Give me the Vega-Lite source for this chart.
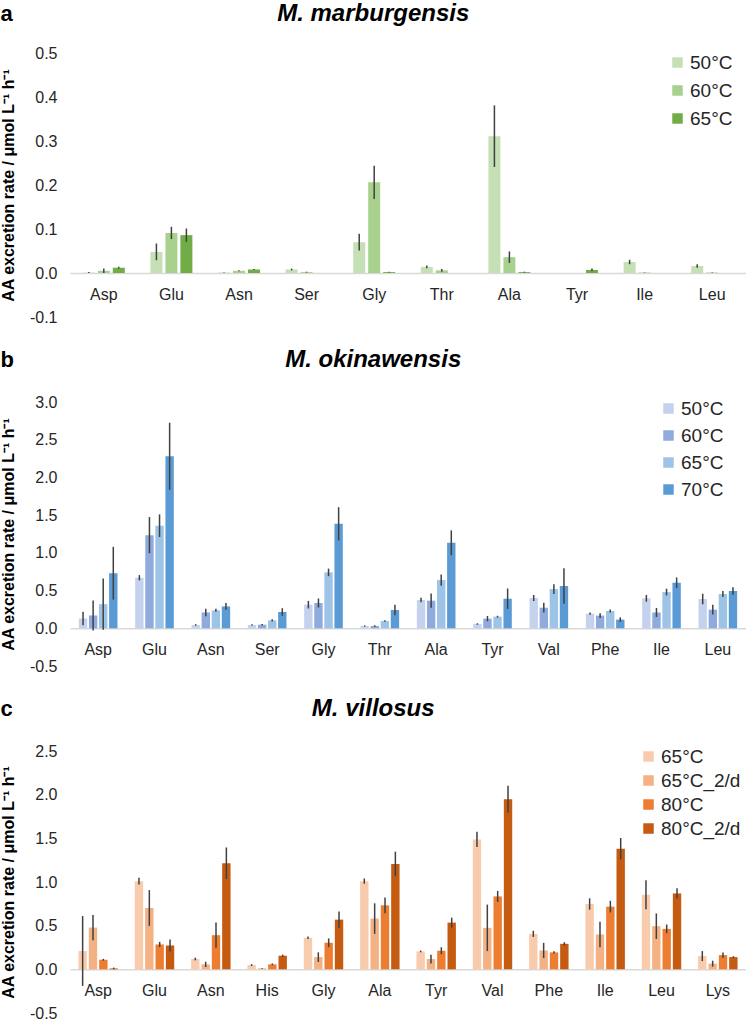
{
  "$schema": "https://vega.github.io/schema/vega-lite/v6.json",
  "padding": {"top": 2, "left": 0, "right": 0, "bottom": 0},
  "background": "white",
  "spacing": 23,
  "config": {
    "font": "Liberation Sans",
    "view": {"stroke": null},
    "axis": {"labelFont": "Liberation Sans", "labelColor": "#262626", "labelFontSize": 16, "grid": false, "ticks": false, "labelOverlap": false},
    "axisX": {"title": null, "labelAngle": 0, "domainColor": "#d9d9d9", "domainWidth": 1.5, "labelPadding": 13},
    "axisY": {"domain": false, "labelPadding": 13, "titleFontSize": 16, "titleFontWeight": "bold", "titleColor": "#000000", "titlePadding": 13, "labelOverlap": false},
    "legend": {"orient": "none", "labelFontSize": 19, "symbolType": "square", "symbolSize": 110, "symbolStrokeWidth": 0, "symbolOpacity": 1, "padding": 0, "labelOffset": 3, "labelColor": "#262626", "labelLimit": 200},
    "title": {"color": "#000000"}
  },
  "datasets": {
    "a": [
      {"aa": "Asp", "t": "50°C", "v": 0.001, "lo": 0.0, "hi": 0.002},
      {"aa": "Asp", "t": "60°C", "v": 0.005, "lo": 0.0, "hi": 0.01},
      {"aa": "Asp", "t": "65°C", "v": 0.012, "lo": 0.010, "hi": 0.014},
      {"aa": "Glu", "t": "50°C", "v": 0.048, "lo": 0.029, "hi": 0.067},
      {"aa": "Glu", "t": "60°C", "v": 0.091, "lo": 0.077, "hi": 0.105},
      {"aa": "Glu", "t": "65°C", "v": 0.086, "lo": 0.071, "hi": 0.101},
      {"aa": "Asn", "t": "50°C", "v": 0.001, "lo": 0.0005, "hi": 0.0015},
      {"aa": "Asn", "t": "60°C", "v": 0.005, "lo": 0.004, "hi": 0.006},
      {"aa": "Asn", "t": "65°C", "v": 0.008, "lo": 0.007, "hi": 0.009},
      {"aa": "Ser", "t": "50°C", "v": 0.008, "lo": 0.006, "hi": 0.010},
      {"aa": "Ser", "t": "60°C", "v": 0.002, "lo": 0.001, "hi": 0.003},
      {"aa": "Gly", "t": "50°C", "v": 0.070, "lo": 0.051, "hi": 0.089},
      {"aa": "Gly", "t": "60°C", "v": 0.206, "lo": 0.168, "hi": 0.244},
      {"aa": "Gly", "t": "65°C", "v": 0.002, "lo": 0.001, "hi": 0.003},
      {"aa": "Thr", "t": "50°C", "v": 0.014, "lo": 0.011, "hi": 0.017},
      {"aa": "Thr", "t": "60°C", "v": 0.006, "lo": 0.003, "hi": 0.009},
      {"aa": "Ala", "t": "50°C", "v": 0.311, "lo": 0.241, "hi": 0.381},
      {"aa": "Ala", "t": "60°C", "v": 0.036, "lo": 0.023, "hi": 0.049},
      {"aa": "Ala", "t": "65°C", "v": 0.002, "lo": 0.001, "hi": 0.003},
      {"aa": "Tyr", "t": "65°C", "v": 0.007, "lo": 0.004, "hi": 0.010},
      {"aa": "Ile", "t": "50°C", "v": 0.025, "lo": 0.020, "hi": 0.030},
      {"aa": "Ile", "t": "60°C", "v": 0.001, "lo": 0.0005, "hi": 0.0015},
      {"aa": "Leu", "t": "50°C", "v": 0.016, "lo": 0.012, "hi": 0.020},
      {"aa": "Leu", "t": "60°C", "v": 0.001, "lo": 0.0005, "hi": 0.0015}
    ],
    "b": [
      {"aa": "Asp", "t": "50°C", "v": 0.13, "lo": 0.04, "hi": 0.22},
      {"aa": "Asp", "t": "60°C", "v": 0.17, "lo": -0.03, "hi": 0.37},
      {"aa": "Asp", "t": "65°C", "v": 0.32, "lo": -0.02, "hi": 0.66},
      {"aa": "Asp", "t": "70°C", "v": 0.73, "lo": 0.38, "hi": 1.08},
      {"aa": "Glu", "t": "50°C", "v": 0.67, "lo": 0.635, "hi": 0.705},
      {"aa": "Glu", "t": "60°C", "v": 1.235, "lo": 0.995, "hi": 1.475},
      {"aa": "Glu", "t": "65°C", "v": 1.36, "lo": 1.21, "hi": 1.51},
      {"aa": "Glu", "t": "70°C", "v": 2.28, "lo": 1.835, "hi": 2.725},
      {"aa": "Asn", "t": "50°C", "v": 0.044, "lo": 0.034, "hi": 0.054},
      {"aa": "Asn", "t": "60°C", "v": 0.21, "lo": 0.16, "hi": 0.26},
      {"aa": "Asn", "t": "65°C", "v": 0.238, "lo": 0.218, "hi": 0.258},
      {"aa": "Asn", "t": "70°C", "v": 0.29, "lo": 0.245, "hi": 0.335},
      {"aa": "Ser", "t": "50°C", "v": 0.044, "lo": 0.036, "hi": 0.052},
      {"aa": "Ser", "t": "60°C", "v": 0.048, "lo": 0.038, "hi": 0.058},
      {"aa": "Ser", "t": "65°C", "v": 0.106, "lo": 0.091, "hi": 0.121},
      {"aa": "Ser", "t": "70°C", "v": 0.216, "lo": 0.166, "hi": 0.266},
      {"aa": "Gly", "t": "50°C", "v": 0.313, "lo": 0.263, "hi": 0.363},
      {"aa": "Gly", "t": "60°C", "v": 0.335, "lo": 0.275, "hi": 0.395},
      {"aa": "Gly", "t": "65°C", "v": 0.741, "lo": 0.691, "hi": 0.791},
      {"aa": "Gly", "t": "70°C", "v": 1.385, "lo": 1.165, "hi": 1.605},
      {"aa": "Thr", "t": "50°C", "v": 0.031, "lo": 0.023, "hi": 0.039},
      {"aa": "Thr", "t": "60°C", "v": 0.031, "lo": 0.021, "hi": 0.041},
      {"aa": "Thr", "t": "65°C", "v": 0.097, "lo": 0.087, "hi": 0.107},
      {"aa": "Thr", "t": "70°C", "v": 0.243, "lo": 0.173, "hi": 0.313},
      {"aa": "Ala", "t": "50°C", "v": 0.375, "lo": 0.345, "hi": 0.405},
      {"aa": "Ala", "t": "60°C", "v": 0.366, "lo": 0.271, "hi": 0.461},
      {"aa": "Ala", "t": "65°C", "v": 0.639, "lo": 0.564, "hi": 0.714},
      {"aa": "Ala", "t": "70°C", "v": 1.133, "lo": 0.968, "hi": 1.298},
      {"aa": "Tyr", "t": "50°C", "v": 0.057, "lo": 0.047, "hi": 0.067},
      {"aa": "Tyr", "t": "60°C", "v": 0.128, "lo": 0.093, "hi": 0.163},
      {"aa": "Tyr", "t": "65°C", "v": 0.154, "lo": 0.142, "hi": 0.166},
      {"aa": "Tyr", "t": "70°C", "v": 0.392, "lo": 0.257, "hi": 0.527},
      {"aa": "Val", "t": "50°C", "v": 0.401, "lo": 0.361, "hi": 0.441},
      {"aa": "Val", "t": "60°C", "v": 0.273, "lo": 0.208, "hi": 0.338},
      {"aa": "Val", "t": "65°C", "v": 0.52, "lo": 0.455, "hi": 0.585},
      {"aa": "Val", "t": "70°C", "v": 0.56, "lo": 0.325, "hi": 0.795},
      {"aa": "Phe", "t": "50°C", "v": 0.194, "lo": 0.179, "hi": 0.209},
      {"aa": "Phe", "t": "60°C", "v": 0.168, "lo": 0.138, "hi": 0.198},
      {"aa": "Phe", "t": "65°C", "v": 0.229, "lo": 0.209, "hi": 0.249},
      {"aa": "Phe", "t": "70°C", "v": 0.115, "lo": 0.085, "hi": 0.145},
      {"aa": "Ile", "t": "50°C", "v": 0.397, "lo": 0.352, "hi": 0.442},
      {"aa": "Ile", "t": "60°C", "v": 0.21, "lo": 0.15, "hi": 0.27},
      {"aa": "Ile", "t": "65°C", "v": 0.48, "lo": 0.435, "hi": 0.525},
      {"aa": "Ile", "t": "70°C", "v": 0.604, "lo": 0.534, "hi": 0.674},
      {"aa": "Leu", "t": "50°C", "v": 0.388, "lo": 0.318, "hi": 0.458},
      {"aa": "Leu", "t": "60°C", "v": 0.247, "lo": 0.182, "hi": 0.312},
      {"aa": "Leu", "t": "65°C", "v": 0.454, "lo": 0.414, "hi": 0.494},
      {"aa": "Leu", "t": "70°C", "v": 0.494, "lo": 0.444, "hi": 0.544}
    ],
    "c": [
      {"aa": "Asp", "t": "65°C", "v": 0.209, "lo": -0.19, "hi": 0.61},
      {"aa": "Asp", "t": "65°C_2/d", "v": 0.478, "lo": 0.333, "hi": 0.623},
      {"aa": "Asp", "t": "80°C", "v": 0.11, "lo": 0.1, "hi": 0.12},
      {"aa": "Asp", "t": "80°C_2/d", "v": 0.01, "lo": 0.0, "hi": 0.02},
      {"aa": "Glu", "t": "65°C", "v": 1.01, "lo": 0.97, "hi": 1.05},
      {"aa": "Glu", "t": "65°C_2/d", "v": 0.702, "lo": 0.497, "hi": 0.907},
      {"aa": "Glu", "t": "80°C", "v": 0.285, "lo": 0.255, "hi": 0.315},
      {"aa": "Glu", "t": "80°C_2/d", "v": 0.273, "lo": 0.203, "hi": 0.343},
      {"aa": "Asn", "t": "65°C", "v": 0.118, "lo": 0.103, "hi": 0.133},
      {"aa": "Asn", "t": "65°C_2/d", "v": 0.057, "lo": 0.027, "hi": 0.087},
      {"aa": "Asn", "t": "80°C", "v": 0.391, "lo": 0.246, "hi": 0.536},
      {"aa": "Asn", "t": "80°C_2/d", "v": 1.215, "lo": 1.035, "hi": 1.395},
      {"aa": "His", "t": "65°C", "v": 0.049, "lo": 0.039, "hi": 0.059},
      {"aa": "His", "t": "65°C_2/d", "v": 0.011, "lo": 0.006, "hi": 0.016},
      {"aa": "His", "t": "80°C", "v": 0.057, "lo": 0.047, "hi": 0.067},
      {"aa": "His", "t": "80°C_2/d", "v": 0.156, "lo": 0.144, "hi": 0.168},
      {"aa": "Gly", "t": "65°C", "v": 0.361, "lo": 0.346, "hi": 0.376},
      {"aa": "Gly", "t": "65°C_2/d", "v": 0.14, "lo": 0.085, "hi": 0.195},
      {"aa": "Gly", "t": "80°C", "v": 0.304, "lo": 0.254, "hi": 0.354},
      {"aa": "Gly", "t": "80°C_2/d", "v": 0.569, "lo": 0.476, "hi": 0.662},
      {"aa": "Ala", "t": "65°C", "v": 1.01, "lo": 0.98, "hi": 1.04},
      {"aa": "Ala", "t": "65°C_2/d", "v": 0.581, "lo": 0.406, "hi": 0.756},
      {"aa": "Ala", "t": "80°C", "v": 0.733, "lo": 0.643, "hi": 0.823},
      {"aa": "Ala", "t": "80°C_2/d", "v": 1.207, "lo": 1.067, "hi": 1.347},
      {"aa": "Tyr", "t": "65°C", "v": 0.205, "lo": 0.195, "hi": 0.215},
      {"aa": "Tyr", "t": "65°C_2/d", "v": 0.118, "lo": 0.068, "hi": 0.168},
      {"aa": "Tyr", "t": "80°C", "v": 0.213, "lo": 0.173, "hi": 0.253},
      {"aa": "Tyr", "t": "80°C_2/d", "v": 0.535, "lo": 0.478, "hi": 0.592},
      {"aa": "Val", "t": "65°C", "v": 1.488, "lo": 1.401, "hi": 1.575},
      {"aa": "Val", "t": "65°C_2/d", "v": 0.475, "lo": 0.209, "hi": 0.741},
      {"aa": "Val", "t": "80°C", "v": 0.835, "lo": 0.772, "hi": 0.898},
      {"aa": "Val", "t": "80°C_2/d", "v": 1.948, "lo": 1.793, "hi": 2.103},
      {"aa": "Phe", "t": "65°C", "v": 0.406, "lo": 0.371, "hi": 0.441},
      {"aa": "Phe", "t": "65°C_2/d", "v": 0.216, "lo": 0.129, "hi": 0.303},
      {"aa": "Phe", "t": "80°C", "v": 0.194, "lo": 0.182, "hi": 0.206},
      {"aa": "Phe", "t": "80°C_2/d", "v": 0.292, "lo": 0.274, "hi": 0.31},
      {"aa": "Ile", "t": "65°C", "v": 0.748, "lo": 0.683, "hi": 0.813},
      {"aa": "Ile", "t": "65°C_2/d", "v": 0.399, "lo": 0.253, "hi": 0.545},
      {"aa": "Ile", "t": "80°C", "v": 0.718, "lo": 0.652, "hi": 0.784},
      {"aa": "Ile", "t": "80°C_2/d", "v": 1.382, "lo": 1.26, "hi": 1.504},
      {"aa": "Leu", "t": "65°C", "v": 0.854, "lo": 0.689, "hi": 1.019},
      {"aa": "Leu", "t": "65°C_2/d", "v": 0.494, "lo": 0.348, "hi": 0.64},
      {"aa": "Leu", "t": "80°C", "v": 0.463, "lo": 0.413, "hi": 0.513},
      {"aa": "Leu", "t": "80°C_2/d", "v": 0.869, "lo": 0.81, "hi": 0.928},
      {"aa": "Lys", "t": "65°C", "v": 0.152, "lo": 0.095, "hi": 0.209},
      {"aa": "Lys", "t": "65°C_2/d", "v": 0.065, "lo": 0.031, "hi": 0.099},
      {"aa": "Lys", "t": "80°C", "v": 0.163, "lo": 0.133, "hi": 0.193},
      {"aa": "Lys", "t": "80°C_2/d", "v": 0.14, "lo": 0.13, "hi": 0.15}
    ]
  },
  "vconcat": [
    {
      "title": {"text": "a", "anchor": "start", "frame": "bounds", "fontSize": 22, "fontWeight": "bold", "offset": -24},
      "vconcat": [
        {
          "width": 676,
          "height": 264,
          "title": {"text": "M. marburgensis", "anchor": "middle", "frame": "bounds", "fontSize": 24, "fontStyle": "italic", "fontWeight": "bold", "offset": 19},
          "data": {"name": "a"},
          "encoding": {
            "x": {"field": "aa", "type": "nominal", "sort": ["Asp", "Glu", "Asn", "Ser", "Gly", "Thr", "Ala", "Tyr", "Ile", "Leu"], "scale": {"paddingInner": 0.335, "paddingOuter": 0.1675}, "axis": {"offset": -44}},
            "xOffset": {"field": "t", "type": "nominal", "sort": ["50°C", "60°C", "65°C"], "scale": {"domain": ["50°C", "60°C", "65°C"], "paddingInner": 0.2, "paddingOuter": 0.1}}
          },
          "layer": [
            {
              "mark": {"type": "bar"},
              "encoding": {
                "y": {"field": "v", "type": "quantitative", "scale": {"domain": [-0.1, 0.5], "nice": false, "zero": false}, "axis": {"values": [-0.1, 0, 0.1, 0.2, 0.3, 0.4, 0.5], "labelOverlap": false, "labelExpr": "replace(format(datum.value, '.1f'), '\u2212', '-')", "title": "AA excretion rate / μmol L⁻¹ h⁻¹"}},
                "color": {"field": "t", "type": "nominal", "scale": {"domain": ["50°C", "60°C", "65°C"], "range": ["#c5e0b4", "#a9d18e", "#70ad47"]}, "legend": {"title": null, "legendX": 598, "legendY": 0, "rowPadding": 8}}
              }
            },
            {
              "mark": {"type": "rule", "color": "#404040", "strokeWidth": 1.5},
              "encoding": {"y": {"field": "lo", "type": "quantitative", "axis": {"labelOverlap": false}}, "y2": {"field": "hi"}}
            }
          ]
        }
      ]
    },
    {
      "title": {"text": "b", "anchor": "start", "frame": "bounds", "fontSize": 22, "fontWeight": "bold", "offset": -24},
      "vconcat": [
        {
          "width": 676,
          "height": 264,
          "title": {"text": "M. okinawensis", "anchor": "middle", "frame": "bounds", "fontSize": 24, "fontStyle": "italic", "fontWeight": "bold", "offset": 22},
          "data": {"name": "b"},
          "encoding": {
            "x": {"field": "aa", "type": "nominal", "sort": ["Asp", "Glu", "Asn", "Ser", "Gly", "Thr", "Ala", "Tyr", "Val", "Phe", "Ile", "Leu"], "scale": {"paddingInner": 0.284, "paddingOuter": 0.142}, "axis": {"offset": -37.7}},
            "xOffset": {"field": "t", "type": "nominal", "sort": ["50°C", "60°C", "65°C", "70°C"], "scale": {"domain": ["50°C", "60°C", "65°C", "70°C"], "paddingInner": 0.17, "paddingOuter": 0.085}}
          },
          "layer": [
            {
              "mark": {"type": "bar"},
              "encoding": {
                "y": {"field": "v", "type": "quantitative", "scale": {"domain": [-0.5, 3.0], "nice": false, "zero": false}, "axis": {"tickCount": 7, "labelOverlap": false, "labelSeparation": 0, "labelBound": false, "labelExpr": "replace(format(datum.value, '.1f'), '\u2212', '-')", "title": "AA excretion rate / μmol L⁻¹ h⁻¹"}},
                "color": {"field": "t", "type": "nominal", "scale": {"domain": ["50°C", "60°C", "65°C", "70°C"], "range": ["#c4d2ee", "#8faadc", "#9dc3e6", "#5b9bd5"]}, "legend": {"title": null, "legendX": 589, "legendY": -3, "rowPadding": 7}}
              }
            },
            {
              "mark": {"type": "rule", "color": "#404040", "strokeWidth": 1.5},
              "encoding": {"y": {"field": "lo", "type": "quantitative", "axis": {"tickCount": 7, "labelOverlap": false}}, "y2": {"field": "hi"}}
            }
          ]
        }
      ]
    },
    {
      "title": {"text": "c", "anchor": "start", "frame": "bounds", "fontSize": 22, "fontWeight": "bold", "offset": -24},
      "vconcat": [
        {
          "width": 676,
          "height": 262,
          "title": {"text": "M. villosus", "anchor": "middle", "frame": "bounds", "fontSize": 24, "fontStyle": "italic", "fontWeight": "bold", "offset": 22},
          "data": {"name": "c"},
          "encoding": {
            "x": {"field": "aa", "type": "nominal", "sort": ["Asp", "Glu", "Asn", "His", "Gly", "Ala", "Tyr", "Val", "Phe", "Ile", "Leu", "Lys"], "scale": {"paddingInner": 0.265, "paddingOuter": 0.1325}, "axis": {"offset": -43.7}},
            "xOffset": {"field": "t", "type": "nominal", "sort": ["65°C", "65°C_2/d", "80°C", "80°C_2/d"], "scale": {"domain": ["65°C", "65°C_2/d", "80°C", "80°C_2/d"], "paddingInner": 0.19, "paddingOuter": 0.095}}
          },
          "layer": [
            {
              "mark": {"type": "bar"},
              "encoding": {
                "y": {"field": "v", "type": "quantitative", "scale": {"domain": [-0.5, 2.5], "nice": false, "zero": false}, "axis": {"values": [-0.5, 0, 0.5, 1, 1.5, 2, 2.5], "labelOverlap": false, "labelExpr": "replace(format(datum.value, '.1f'), '\u2212', '-')", "title": "AA excretion rate / μmol L⁻¹ h⁻¹"}},
                "color": {"field": "t", "type": "nominal", "scale": {"domain": ["65°C", "65°C_2/d", "80°C", "80°C_2/d"], "range": ["#f8cbad", "#f4b183", "#ed7d31", "#c55a11"]}, "legend": {"title": null, "legendX": 569, "legendY": -4, "rowPadding": 4}}
              }
            },
            {
              "mark": {"type": "rule", "color": "#404040", "strokeWidth": 1.5},
              "encoding": {"y": {"field": "lo", "type": "quantitative", "axis": {"labelOverlap": false}}, "y2": {"field": "hi"}}
            }
          ]
        }
      ]
    }
  ],
  "resolve": {"scale": {"color": "independent", "x": "independent", "y": "independent", "xOffset": "independent"}, "legend": {"color": "independent"}}
}
